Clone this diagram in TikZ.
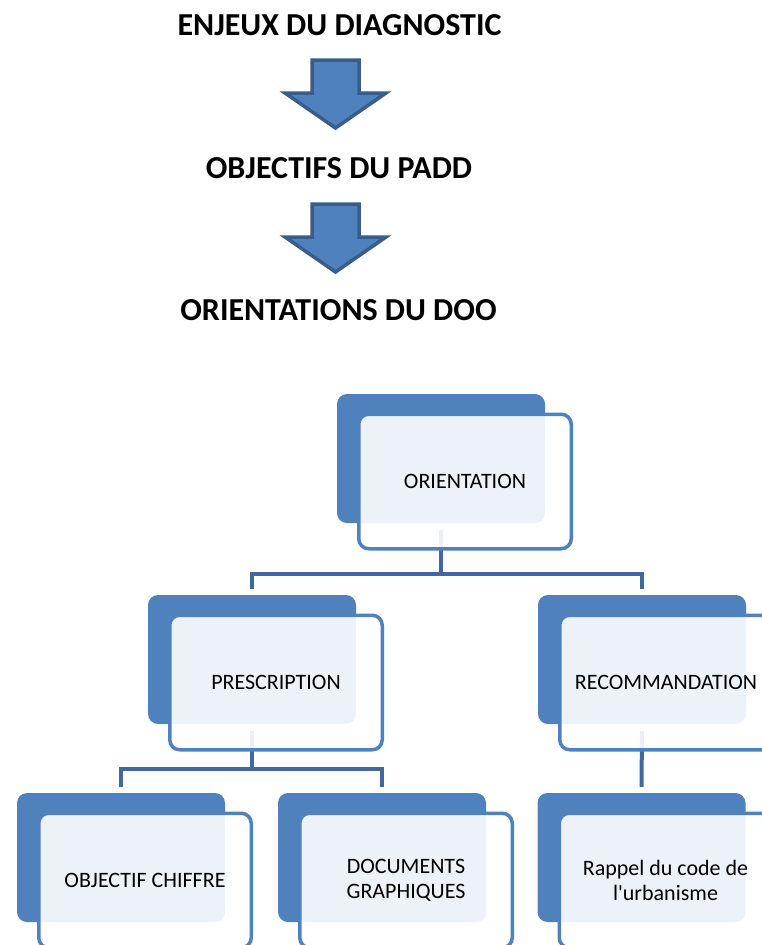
\documentclass[tikz,border=0pt]{standalone}
\usepackage{fontspec}
\setmainfont{Carlito}
\usetikzlibrary{backgrounds}

\definecolor{boxblue}{RGB}{79,129,189}
\definecolor{arrowedge}{RGB}{56,93,138}
\definecolor{linkblue}{RGB}{65,104,158}

\tikzset{
  title/.style={font=\bfseries\fontsize{32}{38}\selectfont, inner sep=0pt, anchor=base},
  backbox/.style={fill=boxblue, rounded corners=10pt, minimum width=208pt, minimum height=129pt, inner sep=0pt},
  frontbox/.style={draw=boxblue, line width=3.5pt, fill=white, fill opacity=0.9, text opacity=1,
    rounded corners=10pt, minimum width=212.5pt, minimum height=134.5pt, inner sep=0pt,
    align=center, font=\fontsize{22}{24.5}\selectfont},
  link/.style={draw=linkblue, line width=4pt},
  bigarrow/.style={fill=boxblue, draw=arrowedge, line width=3.5pt, line join=miter}
}

\begin{document}
\begin{tikzpicture}[x=1pt,y=-1pt]
\useasboundingbox (0,0) rectangle (762,945);
\clip (0,0) rectangle (762,945);

\node[title] (enjeux) at (339.5,35) {ENJEUX DU DIAGNOSTIC};
\node[title] (padd) at (339,178) {OBJECTIFS DU PADD};
\node[title] (doo) at (338.5,320) {ORIENTATIONS DU DOO};

\foreach \dy in {0,144}
    \filldraw[bigarrow, yshift=-\dy pt] (312,60) -- (359,60) -- (359,93) -- (386,93) -- (335.5,128) -- (285,93) -- (312,93) -- cycle;

% hierarchy
\node[backbox] (orientb) at (441,458.5) {};
\node[frontbox] (orient) at ([shift={(24,23)}]orientb) {ORIENTATION};

\node[backbox] (prescb) at (252,659.5) {};
\node[frontbox] (presc) at ([shift={(24,23)}]prescb) {PRESCRIPTION};

\node[backbox] (recommb) at (642,659.5) {};
\node[frontbox] (recomm) at ([shift={(24,23)}]recommb) {RECOMMANDATION};

\node[backbox] (objb) at (121,857.5) {};
\node[frontbox] (obj) at ([shift={(24,23)}]objb) {OBJECTIF CHIFFRE};

\node[backbox] (docb) at (382,857.5) {};
\node[frontbox] (doc) at ([shift={(24,23)}]docb) {DOCUMENTS\\GRAPHIQUES};

\node[backbox] (rappelb) at (641.5,857.5) {};
\node[frontbox] (rappel) at ([shift={(24,23)}]rappelb) {Rappel du code de\\l\textquotesingle urbanisme};

\begin{scope}[on background layer]
\draw[link, shorten <=7pt, shorten >=6pt] (orientb.south) -- ++(0,51) -| (prescb.north);
\draw[link, shorten <=7pt, shorten >=6pt] (orientb.south) -- ++(0,51) -| (recommb.north);
\draw[link, shorten <=7pt, shorten >=6pt] (prescb.south) -- ++(0,45) -| (objb.north);
\draw[link, shorten <=7pt, shorten >=6pt] (prescb.south) -- ++(0,45) -| (docb.north);
\draw[link, shorten <=7pt, shorten >=6pt] (recommb.south) -- (rappelb.north);
\end{scope}

\end{tikzpicture}
\end{document}
